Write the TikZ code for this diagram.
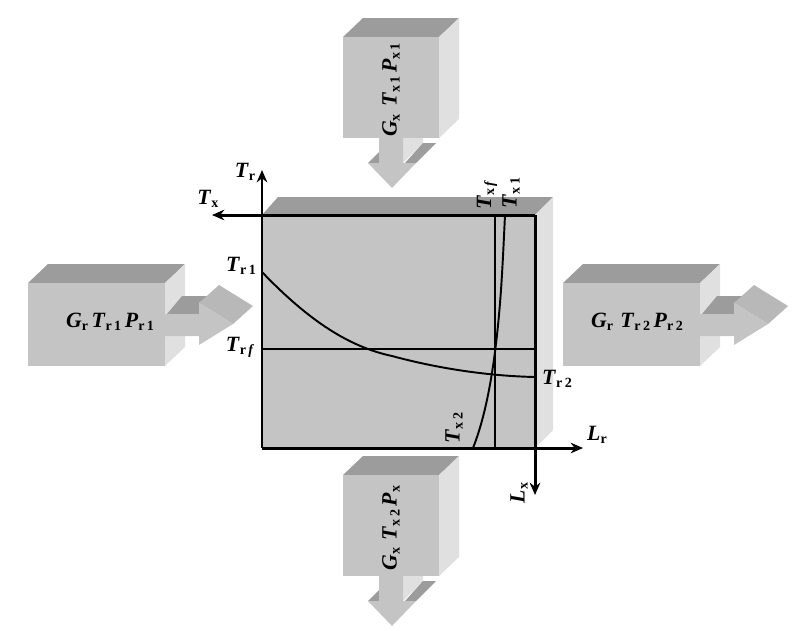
\documentclass[tikz,border=0pt]{standalone}
\usepackage{fontspec}
\setmainfont{Liberation Serif}
\usetikzlibrary{arrows.meta,positioning,calc}
\definecolor{facegray}{HTML}{C4C4C4}
\definecolor{headgray}{HTML}{B8B8B8}
\definecolor{topgray}{HTML}{9C9C9C}
\definecolor{sidegray}{HTML}{E0E0E0}
\newcommand{\sym}[2]{\textbf{\textit{#1}}\raisebox{-0.3ex}{\fontsize{8}{9}\selectfont\bfseries #2}}
\tikzset{
  front/.style={fill=facegray, draw=none},
  topface/.style={fill=topgray, draw=none},
  sideface/.style={fill=sidegray, draw=none},
  headface/.style={fill=headgray, draw=none},
  axis/.style={line width=1.7pt, -{Stealth[length=7pt,width=6pt]}},
  curve/.style={line width=1.1pt},
  lab/.style={inner sep=0pt, font=\fontsize{12.4}{14}\selectfont},
}
\begin{document}
\begin{tikzpicture}[x=0.02cm, y=-0.02cm]
\useasboundingbox (0,0) rectangle (793,630);

% Main chart block
\fill[topface] (262,215) -- (278,197) -- (553,197) -- (535,215) -- cycle;
\fill[sideface] (535,215) -- (553,197) -- (553,430) -- (535,448) -- cycle;
\fill[front] (262,215) rectangle (535,448);

% Horizontal blocks with arrows
\foreach \dx in {0,535} {
\begin{scope}[xshift=\dx*0.02cm]
\fill[topface] (28,283) -- (48,264) -- (185,264) -- (165,283) -- cycle;
\fill[sideface] (165,283) -- (185,264) -- (185,347) -- (165,366) -- cycle;
\fill[front] (28,283) rectangle (165,366);
\fill[topface] (167,314) -- (182,296) -- (208,296) -- (199,303) -- (199,314) -- cycle;
\fill[headface] (219,285) -- (253,306) -- (233,324) -- (199,303) -- cycle;
\fill[front] (165,314) -- (199,314) -- (199,303) -- (233,324) -- (199,345) -- (199,336) -- (165,336) -- cycle;
\end{scope}
}

% Vertical blocks with arrows
\foreach \dy in {0,438} {
\begin{scope}[yshift=-\dy*0.02cm]
\fill[topface] (343,37) -- (363,18) -- (459,18) -- (439,37) -- cycle;
\fill[sideface] (439,37) -- (459,18) -- (459,119) -- (439,138) -- cycle;
\fill[front] (343,37) rectangle (439,138);
\fill[sideface] (403,138) -- (423,138) -- (423,143) -- (403,163) -- cycle;
\fill[topface] (423,143) -- (436,143) -- (416,163) -- (405,163) -- cycle;
\fill[topface] (368,163) -- (379,152) -- (379,163) -- cycle;
\fill[front] (379,138) -- (403,138) -- (403,163) -- (416,163) -- (392,188) -- (368,163) -- (379,163) -- cycle;
\end{scope}
}

% Axis ends
\coordinate (origin) at (262,448);
\coordinate (corner) at (535,215);
\coordinate (trend) at (262,170);
\coordinate (txend) at (212,215);
\coordinate (lrend) at (583,448);
\coordinate (lxend) at (535,495);
\coordinate (trfl) at (262,349);
\coordinate (trfr) at (535,349);
\coordinate (txft) at (495,215);
\coordinate (txfb) at (495,448);
\coordinate (topleft) at (262,215);
\coordinate (botright) at (535,448);

% Axes
\draw[axis] (origin) -- (trend);
\draw[axis] (corner) -- (txend);
\draw[axis] (origin) -- (lrend);
\draw[axis] (corner) -- (lxend);

% Temperature lines
\draw[curve] (trfl) -- (trfr);
\draw[curve] (txft) -- (txfb);
\draw[curve] (262,272) .. controls (310,322) and (350,347) .. (392,356) .. controls (440,369) and (490,376) .. (535,377);
\draw[curve] (473,448) .. controls (490,405) and (497,345) .. (501,290) .. controls (503,260) and (504,235) .. (505,215);

% Axis labels
\node[lab] (tr) at (245,172) {\sym{T}{r}};
\node[lab] (tx) at (208,199) {\sym{T}{x}};
\node[lab] (lr) at (597,435) {\sym{L}{r}};
\node[lab, rotate=90] (lx) at (519,493) {\sym{L}{x}};
\node[lab] (tr1) at (241,266) {\sym{T}{r\,1}};
\node[lab] (trf) at (240,347) {\sym{T}{r\,\textit{f}}};
\node[lab] (tr2) at (557,379) {\sym{T}{r\,2}};
\node[lab, rotate=90] (tx2) at (454,428) {\sym{T}{x\,2}};
\node[lab, rotate=90] (txf) at (487,195) {\sym{T}{x\,\textit{f}}};
\node[lab, rotate=90] (tx1) at (511,193) {\sym{T}{x\,1}};

% Block labels
\node[lab] (leftblock) at (110,322) {\sym{G}{r}\,\sym{T}{r\,1}\,\sym{P}{r\,1}};
\node[lab] (rightblock) at (637,322) {\sym{G}{r}\,\,\sym{T}{r\,2}\,\sym{P}{r\,2}};
\node[lab, rotate=90] (topblock) at (391,90) {\sym{G}{x}\,\,\sym{T}{x\,1}\,\sym{P}{x\,1}};
\node[lab, rotate=90] (botblock) at (391,528) {\sym{G}{x}\,\,\sym{T}{x\,2}\,\sym{P}{x}};

\end{tikzpicture}
\end{document}
